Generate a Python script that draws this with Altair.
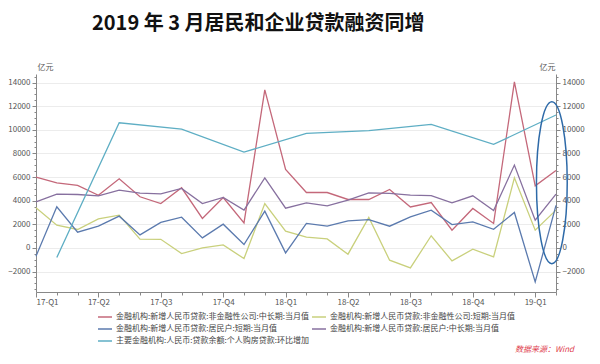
import json
import altair as alt
import pandas as pd

FONT = "Noto Sans CJK SC"

TITLE = "2019 年 3 月居民和企业贷款融资同增"
QUARTER_LABELS = ["17-Q1", "17-Q2", "17-Q3", "17-Q4", "18-Q1", "18-Q2", "18-Q3", "18-Q4", "19-Q1"]

# month index 0 = 2017-02 ... 25 = 2019-03
MONTHS = list(range(26))

S_RED = "金融机构:新增人民币贷款:非金融性公司:中长期:当月值"
S_YEL = "金融机构:新增人民币贷款:非金融性公司:短期:当月值"
S_BLU = "金融机构:新增人民币贷款:居民户:短期:当月值"
S_PUR = "金融机构:新增人民币贷款:居民户:中长期:当月值"
S_TEA = "主要金融机构:人民币:贷款余额:个人购房贷款:环比增加"

corp_long = [6000, 5500, 5300, 4450, 5850, 4330, 3750, 5090, 2500, 4270, 2120, 13370, 6640,
             4690, 4690, 4100, 4100, 4950, 3470, 3840, 1500, 3340, 2070, 14050, 5250, 6550]
corp_short = [3390, 1920, 1560, 2460, 2770, 740, 730, -480, 0, 250, -900, 3760, 1420,
              910, 760, -530, 2580, -1040, -1690, 1030, -1100, -110, -760, 5930, 1500, 3200]
hh_short = [-700, 3480, 1330, 1840, 2690, 1100, 2160, 2600, 850, 2010, 290, 3110, -420,
            2070, 1840, 2290, 2400, 1840, 2630, 3200, 1980, 2200, 1580, 3000, -2880, 3600]
hh_long = [3900, 4550, 4520, 4400, 4890, 4640, 4570, 5030, 3760, 4270, 3200, 5930, 3360,
           3810, 3560, 4040, 4660, 4610, 4470, 4430, 3810, 4410, 3170, 7010, 2350, 4550]
mortgage_idx = [1, 4, 7, 10, 13, 16, 19, 22, 25]
mortgage = [-810, 10590, 10060, 8110, 9690, 9920, 10460, 8760, 11250]

# legend fills column by column: first column red, blue, teal; second yellow, purple
SERIES_ORDER = [S_RED, S_BLU, S_TEA, S_YEL, S_PUR]
COLORS = ["#c4687a", "#5b7aae", "#5eaec4", "#c9d07c", "#87709f"]

# annotation ellipse centre (month index, value)
ELLIPSE_X = [24.8]
ELLIPSE_Y = [5525]

SOURCE_TEXT = "数据来源：Wind"

rows = []
for name, vals in [(S_RED, corp_long), (S_YEL, corp_short), (S_BLU, hh_short), (S_PUR, hh_long)]:
    for m, v in zip(MONTHS, vals):
        rows.append({"series": name, "idx": m, "value": v})
for m, v in zip(mortgage_idx, mortgage):
    rows.append({"series": S_TEA, "idx": m, "value": v})
df = pd.DataFrame(rows)

Y_DOMAIN = [-3730, 14720]
Y_TICKS = list(range(-3500, 14501, 500))
X_TICKS = MONTHS

major_y = "datum.value % 2000 === 0"
x_label_expr = f"datum.value % 3 === 0 ? {json.dumps(QUARTER_LABELS)}[datum.value / 3] : ''"

x_enc = alt.X(
    "idx:Q",
    scale=alt.Scale(domain=[0, 25], nice=False, zero=False),
    axis=alt.Axis(
        values=X_TICKS, labelExpr=x_label_expr, labelOverlap=False, title=None,
        grid=False, domainColor="#888", tickColor="#888",
        tickSize={"condition": {"test": "datum.value % 3 === 0", "value": 5}, "value": 3},
        labelFontSize=8, labelColor="#555", labelFont=FONT, labelPadding=1,
    ),
)

def y_axis(orient):
    return alt.Axis(
        orient=orient, values=Y_TICKS, format="d",
        labelExpr=f"{major_y} ? datum.label : ''", labelOverlap=False,
        tickSize={"condition": {"test": major_y, "value": 4}, "value": 2},
        domainColor="#888", tickColor="#888",
        grid=(orient == "left"), gridColor="#ececec",
        gridOpacity={"condition": {"test": major_y, "value": 1}, "value": 0},
        labelFontSize=8, labelColor="#555", labelFont=FONT, labelPadding=2,
        title="亿元", titleAngle=0, titleFontSize=8, titleFontWeight="normal",
        titleColor="#555", titleFont=FONT, titleBaseline="bottom",
        titleAlign="left" if orient == "left" else "right",
        titleX=1 if orient == "left" else -1, titleY=-3,
    )

y_scale = alt.Scale(domain=Y_DOMAIN, nice=False, zero=False)

lines = alt.Chart(df).mark_line(strokeWidth=1.3).encode(
    x=x_enc,
    y=alt.Y("value:Q", scale=y_scale, axis=y_axis("left")),
    color=alt.Color(
        "series:N",
        scale=alt.Scale(domain=SERIES_ORDER, range=COLORS),
        sort=SERIES_ORDER,
        legend=alt.Legend(
            title=None, orient="none", legendX=61, legendY=235, columns=2,
            symbolType="stroke", symbolSize=196, symbolStrokeWidth=1.5,
            labelFontSize=8, labelFont=FONT, labelColor="#444", labelLimit=400,
            rowPadding=-1, columnPadding=0, labelOffset=3, padding=0,
        ),
    ),
    detail="series:N",
)

right_axis = alt.Chart(df).mark_point(opacity=0).encode(
    x=x_enc,
    y=alt.Y("value:Q", scale=y_scale, axis=y_axis("right")),
)

ell_df = pd.DataFrame({"idx": ELLIPSE_X, "value": ELLIPSE_Y})
ellipse = alt.Chart(ell_df).mark_point(
    shape="M0,-1A0.19,1,0,1,1,0,1A0.19,1,0,1,1,0,-1Z",
    size=26244, filled=False, stroke="#2e6aa8", strokeWidth=1.5, opacity=1,
).encode(
    x=x_enc,
    y=alt.Y("value:Q", scale=y_scale, axis=None),
)

src_df = pd.DataFrame({"t": [SOURCE_TEXT]})
source = alt.Chart(src_df).mark_text(
    align="right", baseline="middle", fontSize=8, fontStyle="italic",
    color="#e0404e", font=FONT,
).encode(text="t:N", x=alt.value(538), y=alt.value(276))

chart = alt.layer(lines, right_axis, ellipse, source).resolve_scale(
    y="independent"
).properties(
    width=520, height=218,
    padding={"left": 28, "top": 66, "right": 36, "bottom": 64},
    autosize=alt.AutoSizeParams(type="none"),
    title=alt.TitleParams(
        TITLE, font=FONT, fontSize=20, fontWeight="bold", color="#111",
        anchor="start", frame="group", dx=56, offset=29,
    ),
).configure_view(stroke=None)

chart.save("out.html", embed_options={"renderer": "svg", "actions": False})
